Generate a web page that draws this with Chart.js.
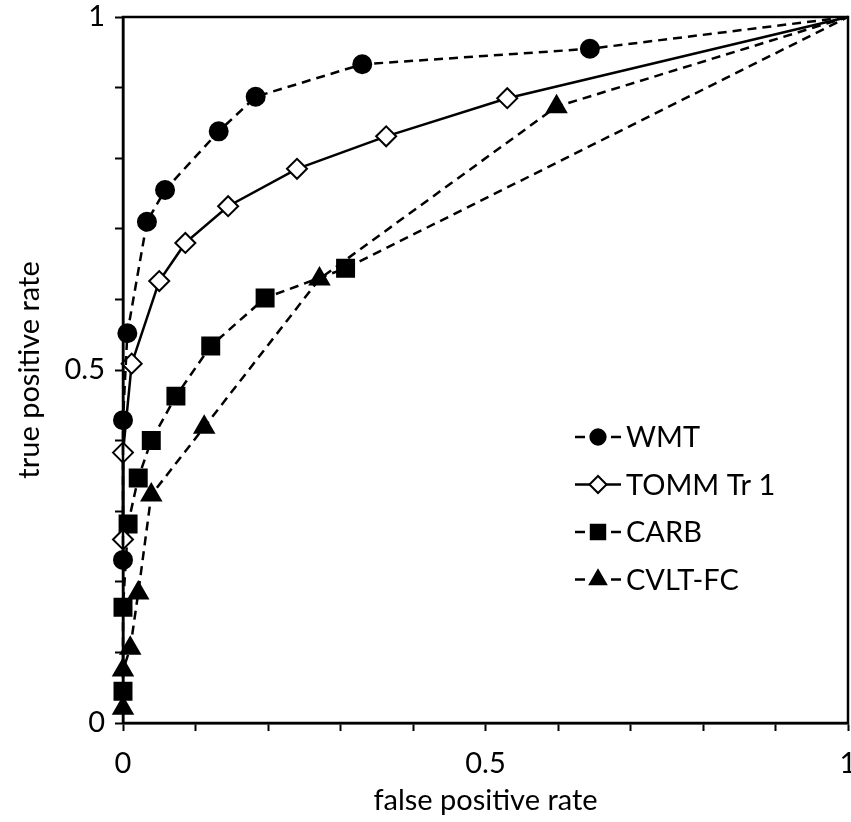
<!DOCTYPE html>
<html>
<head>
<meta charset="utf-8">
<script src="https://cdn.jsdelivr.net/npm/chart.js@4/dist/chart.umd.min.js"></script>
<style>
  html, body { margin: 0; padding: 0; background: #fff; overflow: hidden; }
  /* a little wider than the window: the x axis keeps ~11px for its last label,
     the reference lets the "1" run off the right edge instead */
  #wrap { width: 862px; height: 822px; position: relative; }
  #wrap canvas { display: block; }
</style>
</head>
<body>
<div id="wrap"><canvas id="roc"></canvas></div>
<script>
(function () {
  'use strict';

  // ROC points: false positive rate / true positive rate
  const wmtFpr = [0, 0, 0.006, 0.033, 0.058, 0.132, 0.183, 0.33, 0.644, 1];
  const wmtTpr = [0.231, 0.429, 0.552, 0.710, 0.755, 0.838, 0.887, 0.933, 0.955, 1];

  const tommFpr = [0, 0, 0.012, 0.05, 0.086, 0.145, 0.24, 0.363, 0.53, 1];
  const tommTpr = [0.26, 0.383, 0.509, 0.626, 0.68, 0.732, 0.785, 0.831, 0.885, 1];

  const carbFpr = [0, 0, 0.007, 0.021, 0.039, 0.073, 0.121, 0.196, 0.307, 1];
  const carbTpr = [0.045, 0.164, 0.282, 0.347, 0.40, 0.463, 0.534, 0.602, 0.644, 1];

  const cvltFpr = [0, 0, 0.01, 0.021, 0.039, 0.112, 0.271, 0.598, 1];
  const cvltTpr = [0.021, 0.075, 0.106, 0.184, 0.323, 0.419, 0.629, 0.873, 1];

  const tickLabels = ['0', '0.5', '1'];

  const ink = '#000';
  const font = "'Lato', 'Open Sans', sans-serif";
  const fontSize = 29;
  const dash = [9, 6];

  function toPoints(xs, ys) {
    return xs.map((x, i) => ({ x: x, y: ys[i] }));
  }

  // no marker on the shared (1,1) end point
  function radius(r) {
    return (ctx) => (ctx.dataIndex === ctx.dataset.data.length - 1 ? 0 : r);
  }

  function series(label, xs, ys, style, r, fill, borderDash) {
    return {
      label: label,
      data: toPoints(xs, ys),
      borderColor: ink,
      borderWidth: 2.5,
      borderDash: borderDash,
      pointStyle: style,
      pointRadius: radius(r),
      pointHoverRadius: radius(r),
      pointBackgroundColor: fill,
      pointBorderColor: ink,
      pointBorderWidth: 2,
      legendRadius: r,
      tension: 0,
      clip: false,
      showLine: true,
    };
  }

  function majorLabel(v) {
    const i = [0, 0.5, 1].findIndex((t) => Math.abs(t - v) < 1e-6);
    return i >= 0 ? tickLabels[i] : '';
  }

  // plot frame on all four sides
  const framePlugin = {
    id: 'frame',
    afterDatasetsDraw(chart) {
      const a = chart.chartArea;
      const c = chart.ctx;
      c.save();
      c.strokeStyle = ink;
      c.lineWidth = 2.5;
      c.strokeRect(a.left, a.top, a.right - a.left, a.bottom - a.top);
      c.restore();
    },
  };

  // Excel-style legend: dash - marker - dash, then text
  const legendPlugin = {
    id: 'lineLegend',
    afterDraw(chart) {
      const c = chart.ctx;
      const x0 = 575;
      const x1 = 621;
      const xm = (x0 + x1) / 2;
      const rowH = 47.5;
      c.save();
      c.font = fontSize + 'px ' + font;
      c.textBaseline = 'middle';
      chart.data.datasets.forEach((ds, i) => {
        const y = 437 + i * rowH;
        c.strokeStyle = ink;
        c.lineWidth = 2.5;
        c.beginPath();
        if (ds.borderDash && ds.borderDash.length) {
          c.moveTo(x0, y); c.lineTo(x0 + 10, y);
          c.moveTo(x1 - 10, y); c.lineTo(x1, y);
        } else {
          c.moveTo(x0, y); c.lineTo(x1, y);
        }
        c.stroke();
        c.fillStyle = ds.pointBackgroundColor;
        c.lineWidth = 2;
        Chart.helpers.drawPoint(c, {
          pointStyle: ds.pointStyle,
          radius: ds.legendRadius * 0.85,
          rotation: 0,
          borderWidth: 2,
        }, xm, y);
        c.fillStyle = ink;
        c.fillText(ds.label, x1 + 5, y + 1);
      });
      c.restore();
    },
  };

  const canvas = document.getElementById('roc');

  new Chart(canvas, {
    type: 'scatter',
    data: {
      datasets: [
        series('WMT', wmtFpr, wmtTpr, 'circle', 9, ink, dash),
        series('TOMM Tr 1', tommFpr, tommTpr, 'rectRot', 10, '#fff', []),
        series('CARB', carbFpr, carbTpr, 'rect', 12, ink, dash),
        series('CVLT-FC', cvltFpr, cvltTpr, 'triangle', 11, ink, dash),
      ],
    },
    options: {
      responsive: true,
      maintainAspectRatio: false,
      animation: false,
      layout: { padding: { top: 17, right: 3, left: 0, bottom: 0 } },
      plugins: {
        legend: { display: false },
        tooltip: { enabled: false },
      },
      scales: {
        x: {
          type: 'linear',
          min: 0,
          max: 1,
          afterFit(scale) {
            scale.height = 99;
            scale.paddingLeft = 0;
            scale.paddingRight = 0;
          },
          border: { display: true, color: ink, width: 2.5 },
          grid: { drawOnChartArea: false, drawTicks: true, tickLength: 8, tickColor: ink, tickWidth: 2 },
          ticks: {
            stepSize: 0.1,
            autoSkip: false,
            maxRotation: 0,
            color: ink,
            padding: 15,
            font: { family: font, size: fontSize },
            callback: majorLabel,
          },
          title: {
            display: true,
            text: 'false positive rate',
            color: ink,
            font: { family: font, size: fontSize },
            padding: { top: 0, bottom: 4 },
          },
        },
        y: {
          type: 'linear',
          min: 0,
          max: 1,
          afterFit(scale) {
            scale.width = 123;
            scale.paddingTop = 0;
            scale.paddingBottom = 0;
          },
          border: { display: true, color: ink, width: 2.5 },
          grid: { drawOnChartArea: false, drawTicks: true, tickLength: 8, tickColor: ink, tickWidth: 2 },
          ticks: {
            stepSize: 0.1,
            autoSkip: false,
            color: ink,
            padding: 10,
            font: { family: font, size: fontSize },
            callback: majorLabel,
          },
          title: {
            display: true,
            text: 'true positive rate',
            color: ink,
            font: { family: font, size: fontSize },
            padding: { top: 12, bottom: 0 },
          },
        },
      },
    },
    plugins: [framePlugin, legendPlugin],
  });
})();
</script>
</body>
</html>
